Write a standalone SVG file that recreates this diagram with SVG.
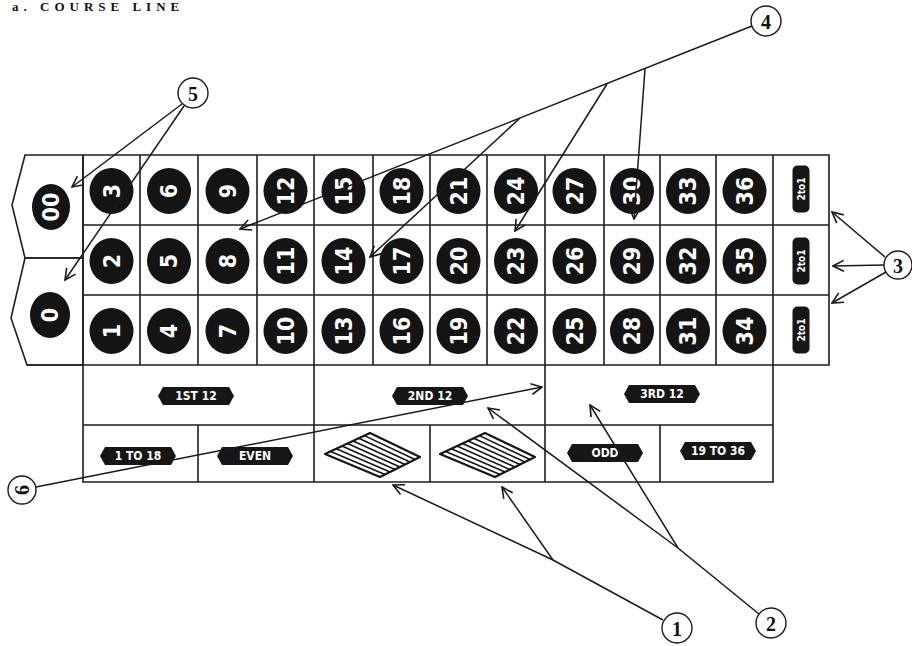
<svg xmlns="http://www.w3.org/2000/svg" width="912" height="646" viewBox="0 0 912 646">
<style>
.bg{fill:#fff}
.grid{fill:none;stroke:#1e1e1e;stroke-width:1.6;stroke-linejoin:miter}
.ball{fill:#141414}
.num{fill:#fff;font-family:"DejaVu Sans Condensed","DejaVu Sans",sans-serif;font-weight:bold;font-size:23px;text-anchor:middle;dominant-baseline:central}
.rib{fill:#161616}
.lab{fill:#fff;font-family:"DejaVu Sans Condensed","DejaVu Sans",sans-serif;font-weight:bold;font-size:12px;text-anchor:middle;dominant-baseline:central}
.two{fill:#161616}
.twot{fill:#fff;font-family:"DejaVu Sans Condensed","DejaVu Sans",sans-serif;font-weight:bold;font-size:10px;text-anchor:middle;dominant-baseline:central}
.dia{fill:#fff;stroke:#161616;stroke-width:2.2;stroke-linejoin:round}
.hatch{stroke:#161616;stroke-width:1.6}
.con{fill:none;stroke:#1a1a1a;stroke-width:1.5}
.call{fill:#fff;stroke:#1a1a1a;stroke-width:1.4}
.callt{fill:#111;font-family:"Liberation Serif",serif;font-weight:bold;font-size:20px;text-anchor:middle;dominant-baseline:central}
.title{fill:#111;font-family:"Liberation Serif",serif;font-weight:bold;font-size:13px;letter-spacing:5px}
</style>
<defs>
<marker id="ah" viewBox="0 0 12 12" refX="11" refY="6" markerWidth="13" markerHeight="13" markerUnits="userSpaceOnUse" orient="auto">
<path d="M1,1 L11,6 L1,11" fill="none" stroke="#1a1a1a" stroke-width="1.5"/>
</marker>
<path id="ribbon" d="M-38,0 L-33,-9 L33,-9 L38,0 L33,9 L-33,9 Z"/>
</defs>
<rect class="bg" x="0" y="0" width="912" height="646"/>
<text class="title" x="12" y="11">a. COURSE LINE</text>

<g id="board">
<path class="grid" d="M83,155 H829 V365 H27 M83,225 H829 M83,295 H829 M83,365 V482 H773 V365 M83,425 H773"/>
<path class="grid" d="M83,155 V365 M140,155 V365 M198,155 V365 M257,155 V365 M314,155 V482 M373,155 V365 M430,155 V365 M487,155 V365 M545,155 V482 M604,155 V365 M660,155 V365 M716,155 V365 M773,155 V365 M198,425 V482 M430,425 V482 M660,425 V482"/>
</g>

<g id="zero00">
<path class="grid" d="M25,155 L83,155 L83,258 L25,258 L12,205 Z"/>
<g transform="translate(51,207)"><ellipse class="ball" rx="19" ry="23"/><text class="num" transform="rotate(-90)">00</text></g>
</g>
<g id="zero0">
<path class="grid" d="M25,258 L83,258 L83,365 L27,365 L11,318 Z"/>
<g transform="translate(50,315)"><ellipse class="ball" rx="20" ry="23"/><text class="num" transform="rotate(-90)">0</text></g>
</g>

<g id="n3" transform="translate(111.5,191)"><ellipse class="ball" rx="22" ry="23"/><text class="num" transform="rotate(-90)">3</text></g>
<g id="n2" transform="translate(111.5,261)"><ellipse class="ball" rx="22" ry="23"/><text class="num" transform="rotate(-90)">2</text></g>
<g id="n1" transform="translate(111.5,331)"><ellipse class="ball" rx="22" ry="23"/><text class="num" transform="rotate(-90)">1</text></g>
<g id="n6" transform="translate(169,191)"><ellipse class="ball" rx="22" ry="23"/><text class="num" transform="rotate(-90)">6</text></g>
<g id="n5" transform="translate(169,261)"><ellipse class="ball" rx="22" ry="23"/><text class="num" transform="rotate(-90)">5</text></g>
<g id="n4" transform="translate(169,331)"><ellipse class="ball" rx="22" ry="23"/><text class="num" transform="rotate(-90)">4</text></g>
<g id="n9" transform="translate(227.5,191)"><ellipse class="ball" rx="22" ry="23"/><text class="num" transform="rotate(-90)">9</text></g>
<g id="n8" transform="translate(227.5,261)"><ellipse class="ball" rx="22" ry="23"/><text class="num" transform="rotate(-90)">8</text></g>
<g id="n7" transform="translate(227.5,331)"><ellipse class="ball" rx="22" ry="23"/><text class="num" transform="rotate(-90)">7</text></g>
<g id="n12" transform="translate(285.5,191)"><ellipse class="ball" rx="22" ry="23"/><text class="num" transform="rotate(-90)">12</text></g>
<g id="n11" transform="translate(285.5,261)"><ellipse class="ball" rx="22" ry="23"/><text class="num" transform="rotate(-90)">11</text></g>
<g id="n10" transform="translate(285.5,331)"><ellipse class="ball" rx="22" ry="23"/><text class="num" transform="rotate(-90)">10</text></g>
<g id="n15" transform="translate(343.5,191)"><ellipse class="ball" rx="22" ry="23"/><text class="num" transform="rotate(-90)">15</text></g>
<g id="n14" transform="translate(343.5,261)"><ellipse class="ball" rx="22" ry="23"/><text class="num" transform="rotate(-90)">14</text></g>
<g id="n13" transform="translate(343.5,331)"><ellipse class="ball" rx="22" ry="23"/><text class="num" transform="rotate(-90)">13</text></g>
<g id="n18" transform="translate(401.5,191)"><ellipse class="ball" rx="22" ry="23"/><text class="num" transform="rotate(-90)">18</text></g>
<g id="n17" transform="translate(401.5,261)"><ellipse class="ball" rx="22" ry="23"/><text class="num" transform="rotate(-90)">17</text></g>
<g id="n16" transform="translate(401.5,331)"><ellipse class="ball" rx="22" ry="23"/><text class="num" transform="rotate(-90)">16</text></g>
<g id="n21" transform="translate(458.5,191)"><ellipse class="ball" rx="22" ry="23"/><text class="num" transform="rotate(-90)">21</text></g>
<g id="n20" transform="translate(458.5,261)"><ellipse class="ball" rx="22" ry="23"/><text class="num" transform="rotate(-90)">20</text></g>
<g id="n19" transform="translate(458.5,331)"><ellipse class="ball" rx="22" ry="23"/><text class="num" transform="rotate(-90)">19</text></g>
<g id="n24" transform="translate(516,191)"><ellipse class="ball" rx="22" ry="23"/><text class="num" transform="rotate(-90)">24</text></g>
<g id="n23" transform="translate(516,261)"><ellipse class="ball" rx="22" ry="23"/><text class="num" transform="rotate(-90)">23</text></g>
<g id="n22" transform="translate(516,331)"><ellipse class="ball" rx="22" ry="23"/><text class="num" transform="rotate(-90)">22</text></g>
<g id="n27" transform="translate(574.5,191)"><ellipse class="ball" rx="22" ry="23"/><text class="num" transform="rotate(-90)">27</text></g>
<g id="n26" transform="translate(574.5,261)"><ellipse class="ball" rx="22" ry="23"/><text class="num" transform="rotate(-90)">26</text></g>
<g id="n25" transform="translate(574.5,331)"><ellipse class="ball" rx="22" ry="23"/><text class="num" transform="rotate(-90)">25</text></g>
<g id="n30" transform="translate(632,191)"><ellipse class="ball" rx="22" ry="23"/><text class="num" transform="rotate(-90)">30</text></g>
<g id="n29" transform="translate(632,261)"><ellipse class="ball" rx="22" ry="23"/><text class="num" transform="rotate(-90)">29</text></g>
<g id="n28" transform="translate(632,331)"><ellipse class="ball" rx="22" ry="23"/><text class="num" transform="rotate(-90)">28</text></g>
<g id="n33" transform="translate(688,191)"><ellipse class="ball" rx="22" ry="23"/><text class="num" transform="rotate(-90)">33</text></g>
<g id="n32" transform="translate(688,261)"><ellipse class="ball" rx="22" ry="23"/><text class="num" transform="rotate(-90)">32</text></g>
<g id="n31" transform="translate(688,331)"><ellipse class="ball" rx="22" ry="23"/><text class="num" transform="rotate(-90)">31</text></g>
<g id="n36" transform="translate(744.5,191)"><ellipse class="ball" rx="22" ry="23"/><text class="num" transform="rotate(-90)">36</text></g>
<g id="n35" transform="translate(744.5,261)"><ellipse class="ball" rx="22" ry="23"/><text class="num" transform="rotate(-90)">35</text></g>
<g id="n34" transform="translate(744.5,331)"><ellipse class="ball" rx="22" ry="23"/><text class="num" transform="rotate(-90)">34</text></g>

<g id="col3" transform="translate(801,189)"><rect class="two" x="-8.5" y="-23.5" width="17" height="47" rx="5"/><text class="twot" transform="rotate(-90)">2to1</text></g>
<g id="col2" transform="translate(801,261)"><rect class="two" x="-8.5" y="-23.5" width="17" height="47" rx="5"/><text class="twot" transform="rotate(-90)">2to1</text></g>
<g id="col1" transform="translate(801,330)"><rect class="two" x="-8.5" y="-23.5" width="17" height="47" rx="5"/><text class="twot" transform="rotate(-90)">2to1</text></g>

<g id="dozen1" transform="translate(196,396)"><use href="#ribbon" class="rib"/><text class="lab">1ST 12</text></g>
<g id="dozen2" transform="translate(430,396)"><use href="#ribbon" class="rib"/><text class="lab">2ND 12</text></g>
<g id="dozen3" transform="translate(662,394)"><use href="#ribbon" class="rib"/><text class="lab">3RD 12</text></g>
<g id="low" transform="translate(138,456)"><use href="#ribbon" class="rib"/><text class="lab">1 TO 18</text></g>
<g id="even" transform="translate(255,456)"><use href="#ribbon" class="rib"/><text class="lab">EVEN</text></g>
<g id="odd" transform="translate(605,453)"><use href="#ribbon" class="rib"/><text class="lab">ODD</text></g>
<g id="high" transform="translate(718,451)"><use href="#ribbon" class="rib"/><text class="lab">19 TO 36</text></g>

<g id="red">
<path class="dia" d="M325,454 L370,433 L420,457 L380,477 Z"/>
<path class="hatch" d="M330.6,451.4 L385,474.5 M336.3,448.8 L390,472 M341.9,446.1 L395,469.5 M347.5,443.5 L400,467 M353.1,440.9 L405,464.5 M358.8,438.3 L410,462 M364.4,435.6 L415,459.5"/>
</g>
<g id="black">
<path class="dia" d="M440,454 L485,433 L535,457 L495,477 Z"/>
<path class="hatch" d="M445.6,451.4 L500,474.5 M451.3,448.8 L505,472 M456.9,446.1 L510,469.5 M462.5,443.5 L515,467 M468.1,440.9 L520,464.5 M473.8,438.3 L525,462 M479.4,435.6 L530,459.5"/>
</g>

<g id="connectors">
<path class="con" marker-end="url(#ah)" d="M182,104 L72,187"/>
<path class="con" marker-end="url(#ah)" d="M184,106 L65,280"/>
<path class="con" marker-end="url(#ah)" d="M752,26 L240,229"/>
<path class="con" marker-end="url(#ah)" d="M645,69 L634,219"/>
<path class="con" marker-end="url(#ah)" d="M607,84 L515,231"/>
<path class="con" marker-end="url(#ah)" d="M520,118 L370,257"/>
<path class="con" marker-end="url(#ah)" d="M885,257 L832,212"/>
<path class="con" marker-end="url(#ah)" d="M884,265 L833,266"/>
<path class="con" marker-end="url(#ah)" d="M886,272 L832,303"/>
<path class="con" marker-end="url(#ah)" d="M663,620 L553,560 L393,485"/>
<path class="con" marker-end="url(#ah)" d="M553,560 L502,487"/>
<path class="con" marker-end="url(#ah)" d="M759,614 L678,548 L590,405"/>
<path class="con" marker-end="url(#ah)" d="M678,548 L488,408"/>
<path class="con" marker-end="url(#ah)" d="M36,487 L542,387"/>
</g>

<g id="c1"><circle class="call" cx="677" cy="628" r="15"/><text class="callt" x="677" y="629">1</text></g>
<g id="c2"><circle class="call" cx="771" cy="623" r="15"/><text class="callt" x="771" y="624">2</text></g>
<g id="c3"><circle class="call" cx="898" cy="265" r="14"/><text class="callt" x="898" y="266">3</text></g>
<g id="c4"><circle class="call" cx="766" cy="21" r="15"/><text class="callt" x="766" y="22">4</text></g>
<g id="c5"><circle class="call" cx="193" cy="93" r="15"/><text class="callt" x="193" y="94">5</text></g>
<g id="c6"><circle class="call" cx="22" cy="490" r="14"/><text class="callt" x="22" y="490" transform="rotate(-90 22 490)">6</text></g>
</svg>
